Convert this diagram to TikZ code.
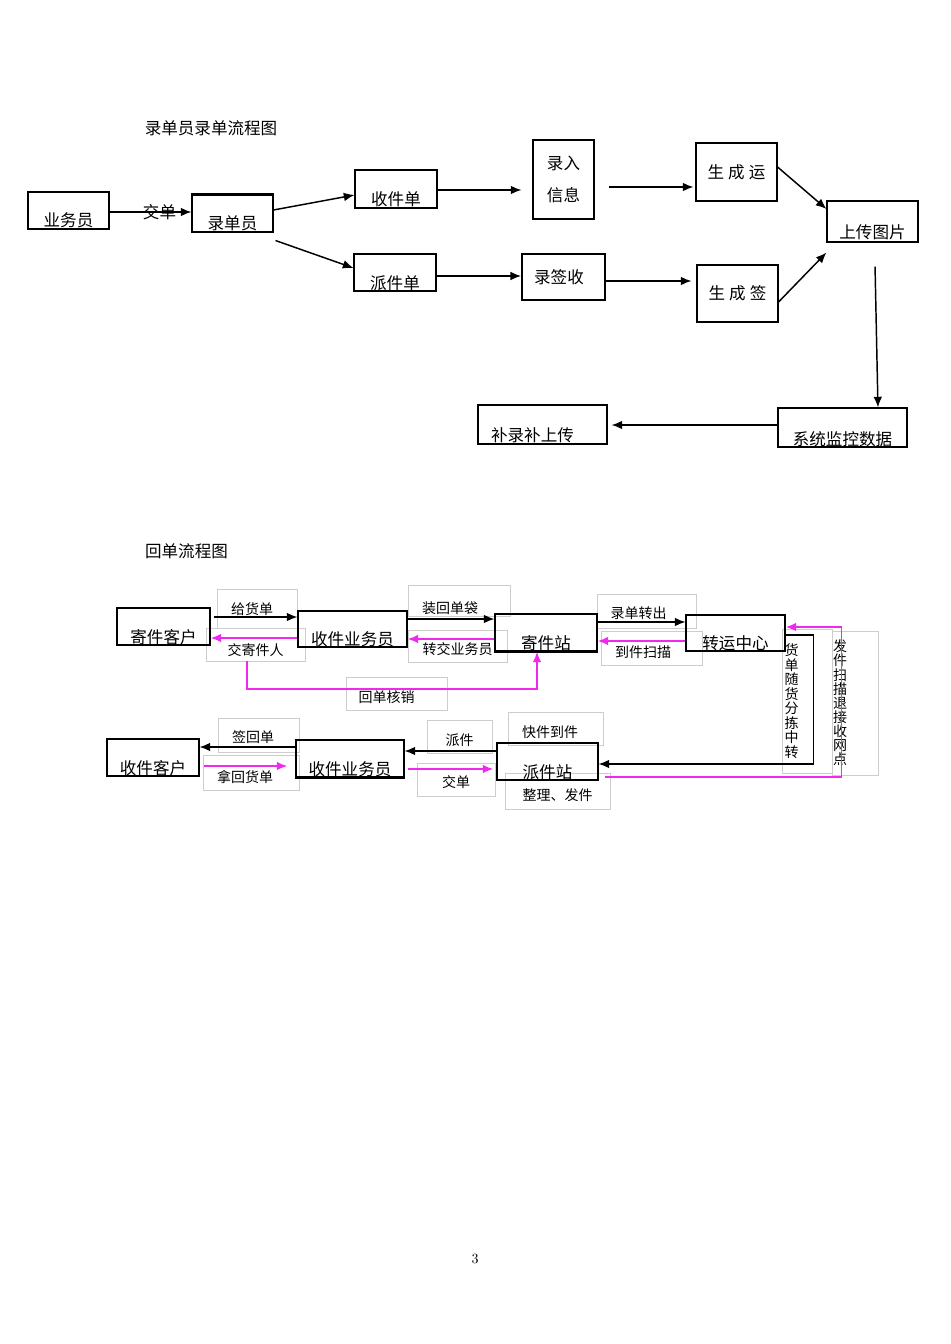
\documentclass[tikz,border=0pt]{standalone}
\usepackage{fontspec}
\newfontfamily\cjk{Noto Sans CJK SC}
\usetikzlibrary{arrows.meta}
\definecolor{pinkline}{RGB}{240,40,240}
\definecolor{framegray}{RGB}{205,205,205}
\newcommand\padr[1]{\kern#1\null}

\begin{document}
\begin{tikzpicture}[x=0.75pt,y=-0.75pt,
    >={Latex[length=8pt,width=6.5pt]},
    word/.style={font=\cjk\fontsize{12.4}{14}\selectfont},
    box/.style={draw,line width=0.8pt,inner sep=0pt,word},
    tag/.style={draw=framegray,line width=0.5pt,inner sep=0pt,font=\cjk\fontsize{10.5}{12}\selectfont},
    blk/.style={->,line width=1.1pt},
    pnk/.style={->,line width=1.4pt,draw=pinkline}]
    \useasboundingbox (0,0) rectangle (950,1344);

    \node[word] (title1) at (211,128) {录单员录单流程图};
    \node[box,minimum width=60.75pt,text height=26.25pt,text depth=1.5pt] (ywy) at (68.5,210.5) {业务员};
    \node[box,minimum width=60.75pt,text height=27pt,text depth=1.5pt] (ldy) at (232.5,213) {录单员};
    \node[box,minimum width=61.5pt,text height=27pt,text depth=1.5pt] (sjd) at (396,189) {收件单};
    \node[box,minimum width=61.5pt,text height=26.5pt,text depth=1.25pt] (pjd) at (395,272.5) {派件单};
    \node[box,minimum width=45.75pt,minimum height=59.25pt,align=center,font=\cjk\fontsize{12.4}{24}\selectfont] (lrxx) at (563.5,179.5) {录入\\信息};
    \node[box,line width=1.3pt,minimum width=62.25pt,minimum height=34.5pt] (lqs) at (563.5,277) {录签收\padr{6.75pt}};
    \node[box,minimum width=60.75pt,minimum height=43.5pt] (scy) at (736.5,172) {生\hspace{3pt}成\hspace{3pt}运};
    \node[box,minimum width=60.75pt,minimum height=42.75pt] (scq) at (737.5,293.5) {生\hspace{3pt}成\hspace{3pt}签};
    \node[box,minimum width=68.25pt,text height=28.5pt,text depth=2.25pt] (sctp) at (872.5,221.5) {上传图片};
    \node[box,minimum width=96.75pt,text height=27.75pt,text depth=1.5pt] (xtjk) at (842.5,427.5) {系统监控数据};
    \node[box,minimum width=96.75pt,text height=27.5pt,text depth=1.75pt] (blbsc) at (542.5,424.5) {补录补上传\padr{15pt}};
    \draw[line width=0.6pt] ([yshift=-1.6pt]ldy.north west) -- ([yshift=-1.6pt]ldy.north east);

    \draw[blk] (ywy.east |- 0,212) -- node[word,pos=0.61] (jdlbl) {交单} (ldy.west |- 0,212);
    \draw[blk] (ldy.east |- 0,210) -- (sjd.west |- 0,195);
    \draw[blk] ([shift={(1.5pt,-6pt)}]ldy.south east) -- (pjd.west |- 0,268);
    \draw[blk,shorten >=8.25pt] (sjd.east |- 0,190) -- (lrxx.west |- 0,190);
    \draw[blk] (pjd.east |- 0,276) -- (lqs.west |- 0,276);
    \draw[blk,shorten <=10.5pt,shorten >=1.5pt] (lrxx.east |- 0,187) -- (scy.west |- 0,187);
    \draw[blk,shorten >=3.75pt] (lqs.east |- 0,281) -- (scq.west |- 0,281);
    \draw[blk] (scy.east |- 0,167) -- (sctp.west |- 0,209);
    \draw[blk] (scq.east |- 0,302) -- ([yshift=-7.5pt]sctp.south west);
    \draw[blk] ([shift={(1.9pt,-18pt)}]sctp.south) -- ([xshift=26.6pt]xtjk.north);
    \draw[blk,shorten >=3pt] (xtjk.west |- 0,425) -- (blbsc.east |- 0,425);

    \node[word] (title2) at (186.5,551) {回单流程图};
    \node[tag,minimum width=60pt,text height=18.75pt,text depth=10.5pt] (tgh) at (257,608.5) {给货单\padr{7.5pt}};
    \node[tag,minimum width=74.25pt,text height=20.25pt,text depth=4.5pt] (tjjr) at (255.5,644.5) {交寄件人};
    \node[tag,minimum width=76.5pt,text height=21pt,text depth=2.25pt] (tzhdd) at (459,600.5) {装回单袋\padr{13.5pt}};
    \node[tag,minimum width=74.25pt,text height=18pt,text depth=6pt] (tzjywy) at (457.5,646) {转交业务员};
    \node[tag,minimum width=75.75pt,text height=18.75pt,text depth=6pt] (thdhx) at (396.5,693.5) {回单核销\padr{15pt}};
    \node[tag,minimum width=60.75pt,text height=18pt,text depth=7.5pt] (tqhd) at (258.5,735) {签回单\padr{8pt}};
    \node[tag,minimum width=72pt,text height=20.25pt,text depth=6pt] (tnhhd) at (251,772.5) {拿回货单\padr{9pt}};
    \node[tag,minimum width=48.75pt,text height=18.75pt,text depth=6pt] (tpj) at (459.5,736.5) {派件};
    \node[tag,minimum width=58.5pt,text height=18pt,text depth=6.75pt] (tjd) at (456,779.5) {交单};
    \node[tag,minimum width=74.25pt,text height=18pt,text depth=7.5pt] (tldzc) at (646.5,611) {录单转出\padr{12pt}};
    \node[tag,minimum width=75.75pt,text height=19.5pt,text depth=6pt] (tdjsm) at (651.5,648) {到件扫描\padr{12.75pt}};
    \node[tag,minimum width=71.25pt,text height=18.75pt,text depth=6pt] (tkjdj) at (555.5,728.5) {快件到件\padr{8pt}};
    \node[tag,minimum width=78.75pt,text height=20.25pt,text depth=6.75pt] (tzlfj) at (557.5,791) {整理、发件};
    \node[tag,minimum height=108pt,inner xsep=2pt,text width=33.5pt,align=left,font=\cjk\fontsize{10.5}{10.9}\selectfont] (thdsh) at (807,701) {货\\单\\随\\货\\分\\拣\\中\\转};
    \node[tag,minimum height=108pt,inner xsep=0.75pt,text width=33pt,align=left,font=\cjk\fontsize{10.5}{10.6}\selectfont] (tfjsm) at (855,703) {发\\件\\扫\\描\\退\\接\\收\\网\\点};

    \node[box,minimum width=69.75pt,text height=26.75pt,text depth=1pt] (jjkh) at (163.5,626.5) {寄件客户};
    \node[box,minimum width=81.75pt,text height=26pt,text depth=1pt] (sjywy1) at (352.5,629) {收件业务员};
    \node[box,minimum width=76.5pt,text height=26.75pt,text depth=1pt] (jjz) at (546,632.5) {寄件站};
    \node[box,minimum width=74.25pt,text height=26pt,text depth=1pt] (zyzx) at (735.5,633) {转运中心};
    \node[box,minimum width=69pt,text height=26.75pt,text depth=1pt] (sjkh) at (153,757.5) {收件客户};
    \node[box,minimum width=81pt,text height=26.75pt,text depth=1pt] (sjywy2) at (350,758.5) {收件业务员};
    \node[box,minimum width=75.75pt,text height=26.75pt,text depth=1pt] (pjz) at (547.5,761.5) {派件站};
    \draw[line width=1.6pt] (jjz.south west) -- (jjz.south east);
    \draw[line width=1.6pt] (sjywy2.south west) -- (sjywy2.south east);

    \draw[blk,shorten <=2.25pt] (jjkh.east |- 0,617) -- (sjywy1.west |- 0,617);
    \draw[pnk] (sjywy1.west |- 0,638) -- (jjkh.east |- 0,638);
    \draw[blk] (sjywy1.east |- 0,619) -- (jjz.west |- 0,619);
    \draw[pnk] (jjz.west |- 0,639) -- (sjywy1.east |- 0,639);
    \draw[pnk] ([xshift=-6.4pt]tjjr.south) -- ++(0,28) -| ([xshift=-6.75pt]jjz.south);
    \draw[blk] (jjz.east |- 0,622) -- (zyzx.west |- 0,622);
    \draw[pnk] (zyzx.west |- 0,641) -- (jjz.east |- 0,641);
    \draw[blk] (zyzx.east |- 0,635) -- ++(28,0) |- (pjz.east |- 0,764);
    \draw[pnk,shorten <=4.5pt] (pjz.east |- 0,777) -- ++(243,0) |- (zyzx.east |- 0,627);
    \draw[blk] (sjywy2.west |- 0,747) -- (sjkh.east |- 0,747);
    \draw[pnk,shorten <=3pt,shorten >=6pt] (sjkh.east |- 0,766) -- (sjywy2.west |- 0,766);
    \draw[blk] (pjz.west |- 0,751) -- (sjywy2.east |- 0,751);
    \draw[pnk,shorten <=2.25pt,shorten >=2.25pt] (sjywy2.east |- 0,769) -- (pjz.west |- 0,769);

    \node[font=\fontsize{10.5}{12}\selectfont] (pgno) at (475,1259) {3};
  \end{tikzpicture}
\end{document}
